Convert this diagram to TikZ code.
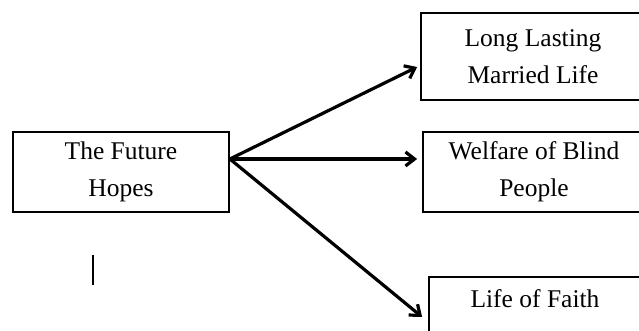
\documentclass[tikz,border=0pt]{standalone}
\usepackage{fontspec}
\setmainfont{Liberation Serif}
\usetikzlibrary{arrows.meta,calc}
\begin{document}
\begin{tikzpicture}[x=1pt,y=1pt,
  hopebox/.style={draw=black,line width=1.8pt,rectangle,align=center,inner sep=0pt,
    font=\fontsize{25.5}{37}\selectfont},
  hopearrow/.style={line width=3.2pt,-{Straight Barb[length=9pt,width=14pt,line width=3.2pt]}}]
\useasboundingbox (0,0) rectangle (639,331);
\clip (0,0) rectangle (639,331);
\node[hopebox,minimum width=216pt,minimum height=80pt] (f) at (121,159) {The Future\\Hopes};
\node[hopebox,minimum width=224pt,minimum height=87pt] (l) at (533,274.5) {Long Lasting\\Married Life};
\node[hopebox,minimum width=222pt,minimum height=80pt] (w) at (534,159) {Welfare of Blind\\People};
\node[hopebox,minimum width=212pt,minimum height=80pt] (h) at (535,14) {Life of Faith\\\mbox{}};
\coordinate (src) at ($(f.east)+(0,13)$);
\coordinate (t1) at ($(l.west)+(-3,-10.5)$);
\coordinate (t2) at ($(w.west)+(-5,13)$);
\coordinate (t3) at ($(h.west)+(-6,0)$);
\draw[hopearrow] (src) -- (t1);
\draw[hopearrow] (src) -- (t2);
\draw[hopearrow] (src) -- (t3);
\draw[line width=1.8pt] (93,76) -- (93,46);
\end{tikzpicture}
\end{document}
